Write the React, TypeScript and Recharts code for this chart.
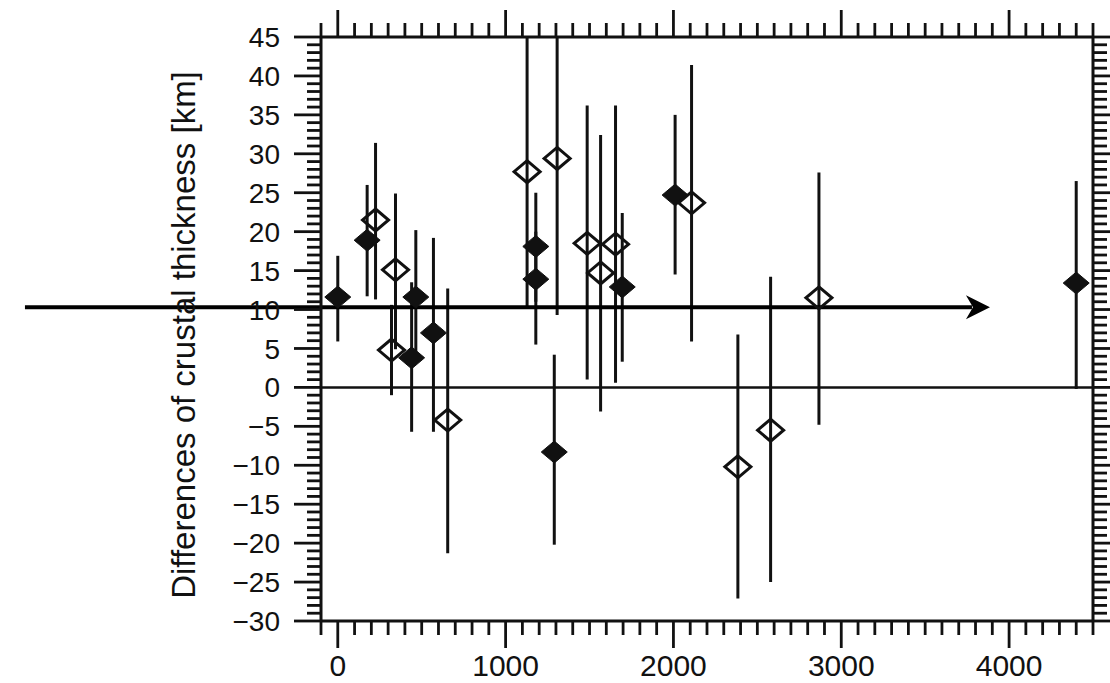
import React from 'react';
import { ScatterChart, Scatter, XAxis, YAxis, ErrorBar, ReferenceLine, Label } from 'recharts';

// filled diamonds: position, value, lower / upper end of the error bar
const solidX = [0, 175, 440, 465, 570, 1180, 1180, 1290, 1695, 2010, 4400];
const solidY = [11.6, 18.9, 3.8, 11.6, 7.0, 18.1, 13.9, -8.3, 12.9, 24.7, 13.4];
const solidLow = [5.9, 11.7, -5.7, 4.0, -5.7, 11.0, 5.5, -20.2, 3.3, 14.5, -0.2];
const solidHigh = [16.9, 26.0, 13.5, 20.2, 19.2, 25.0, 20.0, 4.2, 22.4, 35.0, 26.5];

// open diamonds
const openX = [225, 320, 344, 655, 1128, 1307, 1486, 1566, 1655, 2108, 2384, 2579, 2867];
const openY = [21.5, 4.8, 15.1, -4.2, 27.7, 29.4, 18.5, 14.7, 18.4, 23.7, -10.2, -5.5, 11.5];
const openLow = [11.3, -1.0, 4.9, -21.3, 10.4, 9.3, 1.0, -3.1, 0.6, 5.9, -27.1, -25.0, -4.8];
const openHigh = [31.4, 10.6, 24.9, 12.7, 45, 45, 36.2, 32.4, 36.2, 41.4, 6.8, 14.2, 27.6];

const xMajor = [0, 1000, 2000, 3000, 4000];
const yMajor = [-30, -25, -20, -15, -10, -5, 0, 5, 10, 15, 20, 25, 30, 35, 40, 45];
const xDomain = [-100, 4500];
const yDomain = [-30, 45];
const yTitle = 'Differences of crustal thickness [km]';

// annotation arrow (data units)
const arrowX = [-1864, 3886];
const arrowY = 10.3;

const xTicks: number[] = [];
for (let v = xDomain[0]; v <= xDomain[1]; v += 100) xTicks.push(v);
const yTicks: number[] = [];
for (let v = yDomain[0]; v <= yDomain[1]; v += 1) yTicks.push(v);

const toRows = (xs: number[], ys: number[], lo: number[], hi: number[]) =>
  xs.map((x, i) => ({ x, y: ys[i], err: [ys[i] - lo[i], hi[i] - ys[i]] }));

const solidData = toRows(solidX, solidY, solidLow, solidHigh);
const openData = toRows(openX, openY, openLow, openHigh);

const W = 1110;
const H = 683;
const TOP_H = 37;
const BOTTOM_H = 62;
const PLOT_H = H - TOP_H - BOTTOM_H;

const font = '"Liberation Sans", Arial, Helvetica, sans-serif';
const ink = '#111';
const minus = (v: number) => (v < 0 ? '\u2212' + Math.abs(v) : String(v));

// bottom axis tick also draws the matching tick on the top frame
const BottomTick = ({ x, y, payload }: any) => {
  const major = xMajor.includes(payload.value);
  const len = major ? 27 : 14;
  const top = y - PLOT_H;
  return (
    <g>
      <line x1={x} y1={y} x2={x} y2={y + len} stroke={ink} strokeWidth={2.8} />
      <line x1={x} y1={top} x2={x} y2={top - len} stroke={ink} strokeWidth={2.8} />
      {major && (
        <text x={x} y={y + 55} textAnchor="middle" fontSize={30} fontFamily={font} fill={ink}>
          {minus(payload.value)}
        </text>
      )}
    </g>
  );
};

const LeftTick = ({ x, y, payload }: any) => {
  const major = yMajor.includes(payload.value);
  return (
    <g>
      <line x1={x} y1={y} x2={x - (major ? 27 : 14)} y2={y} stroke={ink} strokeWidth={2.8} />
      {major && (
        <text x={x - 41} y={y} dy="0.36em" textAnchor="end" fontSize={28} fontFamily={font} fill={ink}>
          {minus(payload.value)}
        </text>
      )}
    </g>
  );
};

const RightTick = ({ x, y, payload }: any) => {
  const major = yMajor.includes(payload.value);
  return <line x1={x} y1={y} x2={x + (major ? 27 : 14)} y2={y} stroke={ink} strokeWidth={2.8} />;
};

const Diamond = ({ cx, cy, filled }: any) => (
  <polygon
    points={`${cx},${cy - 11} ${cx + 13},${cy} ${cx},${cy + 11} ${cx - 13},${cy}`}
    fill={filled ? ink : 'none'}
    stroke={ink}
    strokeWidth={filled ? 1 : 3}
  />
);

const Arrow = ({ x1, y1, x2, y2 }: any) => (
  <g>
    <line x1={x1} y1={y1} x2={x2 - 18} y2={y2} stroke="#000" strokeWidth={4} />
    <path d={`M${x2},${y2} L${x2 - 24},${y2 - 12} L${x2 - 17},${y2} L${x2 - 24},${y2 + 12} Z`} fill="#000" />
  </g>
);

const Title = ({ viewBox }: any) => {
  const cx = viewBox.x + 183;
  const cy = viewBox.y + viewBox.height / 2 + 6;
  return (
    <text
      x={cx}
      y={cy}
      transform={`rotate(-90 ${cx} ${cy})`}
      textAnchor="middle"
      dominantBaseline="central"
      fontSize={33}
      fontFamily={font}
      fill={ink}
    >
      {yTitle}
    </text>
  );
};

const axisLine = { stroke: ink, strokeWidth: 3 };

export default function App() {
  return (
    <div style={{ position: 'absolute', left: 0, top: 0, background: '#fff' }}>
      <ScatterChart width={W} height={H} margin={{ top: 0, right: 0, bottom: 0, left: 0 }}>
        <XAxis
          xAxisId={0}
          dataKey="x"
          type="number"
          domain={xDomain}
          ticks={xTicks}
          interval={0}
          allowDataOverflow
          height={BOTTOM_H}
          tickSize={0}
          tickMargin={0}
          tickLine={false}
          axisLine={axisLine}
          tick={<BottomTick />}
        />
        <XAxis
          xAxisId="top"
          orientation="top"
          type="number"
          domain={xDomain}
          allowDataOverflow
          height={TOP_H}
          tickLine={false}
          axisLine={axisLine}
          tick={false}
        />
        <YAxis
          yAxisId={0}
          dataKey="y"
          type="number"
          domain={yDomain}
          ticks={yTicks}
          interval={0}
          allowDataOverflow
          width={321}
          tickSize={0}
          tickMargin={0}
          tickLine={false}
          axisLine={axisLine}
          tick={<LeftTick />}
        >
          <Label content={<Title />} />
        </YAxis>
        <YAxis
          yAxisId="right"
          orientation="right"
          type="number"
          domain={yDomain}
          ticks={yTicks}
          interval={0}
          allowDataOverflow
          width={17}
          tickSize={0}
          tickMargin={0}
          tickLine={false}
          axisLine={axisLine}
          tick={<RightTick />}
        />
        <ReferenceLine y={0} stroke={ink} strokeWidth={2.5} />
        <Scatter data={solidData} isAnimationActive={false} shape={(p: any) => <Diamond {...p} filled />}>
          <ErrorBar dataKey="err" direction="y" width={0} stroke={ink} strokeWidth={3} />
        </Scatter>
        <Scatter data={openData} isAnimationActive={false} shape={(p: any) => <Diamond {...p} />}>
          <ErrorBar dataKey="err" direction="y" width={0} stroke={ink} strokeWidth={3} />
        </Scatter>
        <ReferenceLine
          segment={[
            { x: arrowX[0], y: arrowY },
            { x: arrowX[1], y: arrowY },
          ]}
          ifOverflow="visible"
          shape={<Arrow />}
        />
      </ScatterChart>
    </div>
  );
}
